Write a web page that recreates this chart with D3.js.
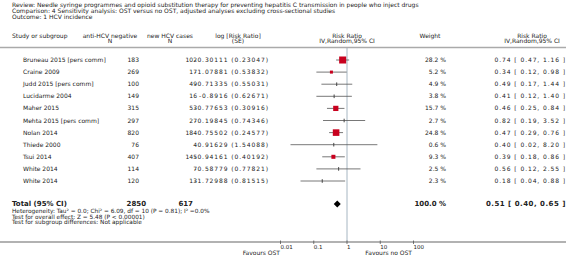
<!DOCTYPE html>
<html>
<head>
<meta charset="utf-8">
<script src="https://cdn.jsdelivr.net/npm/d3@7"></script>
<style>
  body { margin: 0; background: #fff; }
  svg text { font-family: "DejaVu Sans", sans-serif; fill: #222; }
</style>
</head>
<body>
<svg id="chart"></svg>
<script>
// --- data ---
const titleLines = [
  'Review:  Needle syringe programmes and opioid substitution therapy for preventing hepatitis C transmission in people who inject drugs',
  'Comparison:  4 Sensitivity analysis: OST versus no OST, adjusted analyses excluding cross-sectional studies',
  'Outcome:  1 HCV incidence'
];
const studies = ['Bruneau 2015 [pers comm]', 'Craine 2009', 'Judd 2015 [pers comm]', 'Lucidarme 2004',
  'Maher 2015', 'Mehta 2015 [pers comm]', 'Nolan 2014', 'Thiede 2000', 'Tsui 2014', 'White 2014', 'White 2014'];
const antiN   = [183, 269, 100, 149, 315, 297, 820, 76, 407, 114, 120];
const cases   = [102, 17, 49, 16, 53, 27, 184, 4, 145, 7, 13];
const logRR   = ['-0.30111', '-1.07881', '-0.71335', '-0.8916', '-0.77653', '-0.19845', '-0.75502', '-0.91629', '-0.94161', '-0.58779', '-1.72988'];
const se      = ['0.23047', '0.53832', '0.55031', '0.62671', '0.30916', '0.74346', '0.24577', '1.54088', '0.40192', '0.77821', '0.81515'];
const weights = [28.2, 5.2, 4.9, 3.8, 15.7, 2.7, 24.8, 0.6, 9.3, 2.5, 2.3];
const rr      = [0.74, 0.34, 0.49, 0.41, 0.46, 0.82, 0.47, 0.40, 0.39, 0.56, 0.18];
const rrLo    = [0.47, 0.12, 0.17, 0.12, 0.25, 0.19, 0.29, 0.02, 0.18, 0.12, 0.04];
const rrHi    = [1.16, 0.98, 1.44, 1.40, 0.84, 3.52, 0.76, 8.20, 0.86, 2.55, 0.88];
const total   = { n: 2850, cases: 617, rr: 0.51, lo: 0.40, hi: 0.65, weight: 100.0 };
const footLines = [
  'Heterogeneity: Tau² = 0.0; Chi² = 6.09, df = 10 (P = 0.81); I² =0.0%',
  'Test for overall effect: Z = 5.48 (P < 0.00001)',
  'Test for subgroup differences: Not applicable'
];
const ticks = [0.01, 0.1, 1, 10, 100];
const favLeft = 'Favours OST', favRight = 'Favours no OST';

const width = 566, height = 265;
const svg = d3.select('#chart').attr('width', width).attr('height', height);

const x = d3.scaleLog().domain([0.01, 100]).range([280.5, 413.5]);
const y = d3.scaleLinear().domain([0, studies.length - 1]).range([60, 181]);
const yTotal = 204;
const fs = 6;

// title block
svg.append('g').selectAll('text')
  .data(titleLines)
  .join('text')
    .attr('x', 12).attr('y', (d, i) => 7 + i * 6)
    .style('font-size', fs + 'px')
    .text(d => d);

// column headers
const headers = [
  { x: 12,  a: 'start',  l: ['Study or subgroup'] },
  { x: 110, a: 'middle', l: ['anti-HCV negative', 'N'] },
  { x: 170, a: 'middle', l: ['new HCV cases', 'N'] },
  { x: 238, a: 'middle', l: ['log [Risk Ratio]', '(SE)'] },
  { x: 347, a: 'middle', l: ['Risk Ratio', 'IV,Random,95% CI'] },
  { x: 430, a: 'middle', l: ['Weight'] },
  { x: 532, a: 'middle', l: ['Risk Ratio', 'IV,Random,95% CI'] }
];
const hg = svg.append('g');
headers.forEach(h => {
  hg.append('g').selectAll('text')
    .data(h.l)
    .join('text')
      .attr('x', h.x).attr('y', (d, i) => 38 + i * 5)
      .attr('text-anchor', h.a)
      .style('font-size', fs + 'px')
      .text(d => d);
});

svg.append('line')
  .attr('x1', 0).attr('x2', width).attr('y1', 47.5).attr('y2', 47.5)
  .attr('stroke', '#aaa').attr('stroke-width', 1.5);

// null line
svg.append('line')
  .attr('x1', x(1)).attr('x2', x(1)).attr('y1', 48).attr('y2', 242)
  .attr('stroke', '#8fa3b3').attr('stroke-width', 0.8);

// study rows
const rows = svg.append('g').selectAll('g')
  .data(studies.map((s, i) => ({ s, i })))
  .join('g')
    .attr('transform', d => `translate(0,${y(d.i)})`);

rows.append('text').attr('x', 23).attr('y', 2).style('font-size', fs + 'px').text(d => d.s);
rows.append('text').attr('x', 139).attr('y', 2).attr('text-anchor', 'end').style('font-size', fs + 'px')
  .text(d => antiN[d.i]);
// log RR text is wide-spaced; the case count sits over its minus sign like in the original
rows.append('text').attr('x', 268.9).attr('y', 2).attr('text-anchor', 'end').style('font-size', fs + 'px')
  .style('letter-spacing', '0.9px')
  .text(d => `${logRR[d.i]} (${se[d.i]})`);
rows.append('text').attr('x', 197).attr('y', 2).attr('text-anchor', 'end').style('font-size', fs + 'px')
  .text(d => cases[d.i]);
rows.append('text').attr('x', 446).attr('y', 2).attr('text-anchor', 'end').style('font-size', fs + 'px')
  .text(d => `${weights[d.i].toFixed(1)} %`);
rows.append('text').attr('x', 566).attr('y', 2).attr('text-anchor', 'end').style('font-size', fs + 'px')
  .style('letter-spacing', '0.9px')
  .text(d => `${rr[d.i].toFixed(2)} [ ${rrLo[d.i].toFixed(2)}, ${rrHi[d.i].toFixed(2)} ]`);

// CI lines + squares
rows.append('line')
  .attr('x1', d => x(rrLo[d.i])).attr('x2', d => x(rrHi[d.i]))
  .attr('y1', 0).attr('y2', 0)
  .attr('stroke', '#555').attr('stroke-width', 0.8);

rows.append('rect')
  .each(function(d) {
    const s = 1.32 * Math.sqrt(weights[d.i]);
    const big = weights[d.i] > 5;
    d3.select(this)
      .attr('x', x(rr[d.i]) - (big ? s / 2 : 0.5))
      .attr('y', big ? -s / 2 : -1.8)
      .attr('width', big ? s : 1)
      .attr('height', big ? s : 3.6)
      .attr('fill', big ? '#c8001e' : '#444');
  });

// total row
const tg = svg.append('g').attr('transform', `translate(0,${yTotal})`);
const bold = (xp, anchor, txt) => tg.append('text')
  .attr('x', xp).attr('y', 2).attr('text-anchor', anchor)
  .style('font-size', '7px').style('font-weight', 'bold').text(txt);
bold(12, 'start', 'Total (95% CI)');
bold(146, 'end', total.n);
bold(193, 'end', total.cases);
bold(446, 'end', `${total.weight.toFixed(1)} %`);
bold(566, 'end', `${total.rr.toFixed(2)} [ ${total.lo.toFixed(2)}, ${total.hi.toFixed(2)} ]`)
  .style('letter-spacing', '0.5px');
tg.append('path')
  .attr('d', `M${x(total.lo)},0L${x(total.rr)},-3.5L${x(total.hi)},0L${x(total.rr)},3.5Z`)
  .attr('fill', '#000');

svg.append('g').selectAll('text')
  .data(footLines)
  .join('text')
    .attr('x', 12).attr('y', (d, i) => 213 + i * 5.5)
    .style('font-size', '5.8px')
    .text(d => d);

// bottom axis
svg.append('line')
  .attr('x1', 0).attr('x2', width).attr('y1', 242).attr('y2', 242)
  .attr('stroke', '#999').attr('stroke-width', 1.5);

const ax = svg.append('g').attr('transform', 'translate(0,242)');
ax.selectAll('line.tk')
  .data(ticks)
  .join('line')
    .attr('class', 'tk')
    .attr('x1', d => x(d)).attr('x2', d => x(d))
    .attr('y1', -1.5).attr('y2', 2)
    .attr('stroke', '#555').attr('stroke-width', 0.8);
ax.selectAll('text')
  .data(ticks)
  .join('text')
    .attr('x', d => x(d)).attr('y', 7)
    .style('font-size', '5.5px')
    .text(d => d);

svg.append('text').attr('x', 280).attr('y', 255).attr('text-anchor', 'end').style('font-size', fs + 'px').text(favLeft);
svg.append('text').attr('x', 412).attr('y', 255).attr('text-anchor', 'end').style('font-size', fs + 'px').text(favRight);
</script>
</body>
</html>
